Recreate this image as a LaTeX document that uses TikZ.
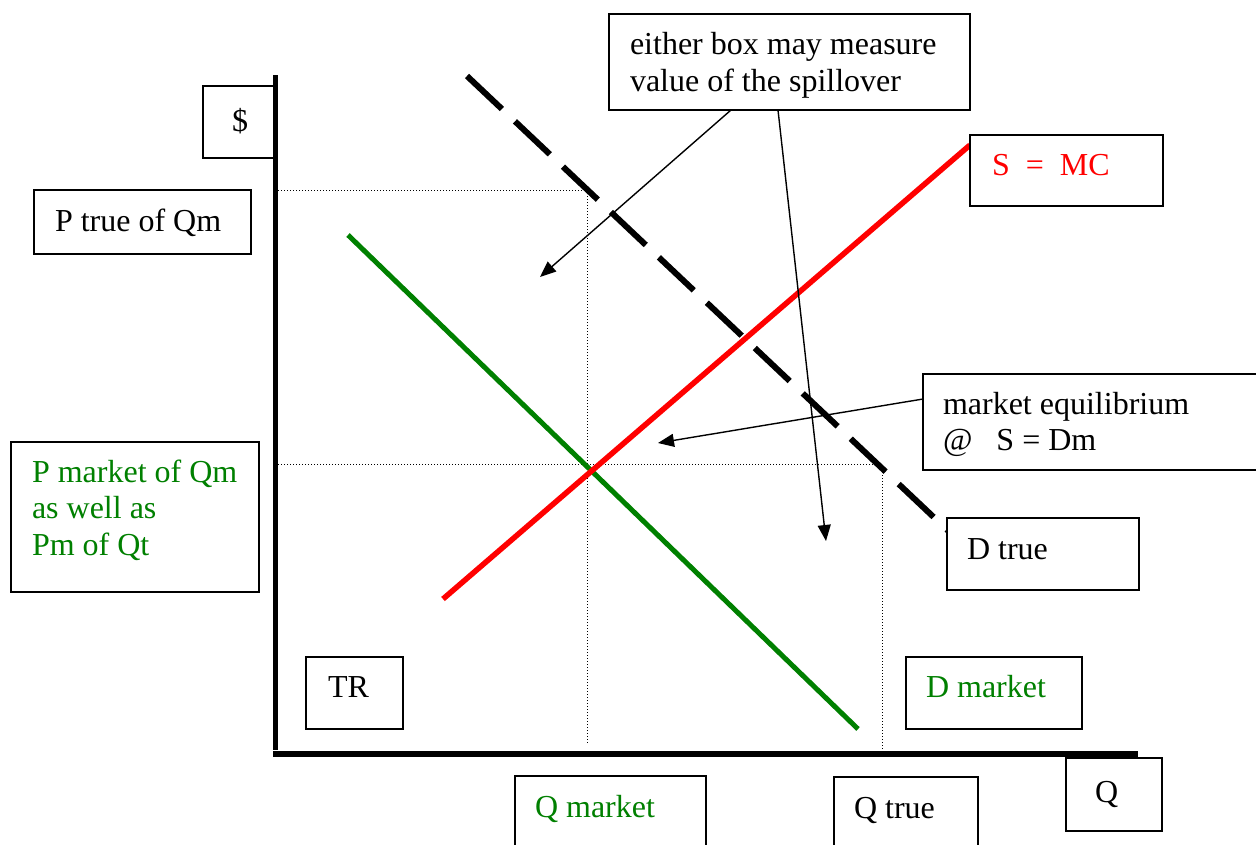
\documentclass[tikz,border=0pt]{standalone}
\usepackage{fontspec}
\setmainfont{Liberation Serif}
\usetikzlibrary{arrows.meta,calc}
\definecolor{mkgreen}{RGB}{0,128,0}
\definecolor{mkred}{RGB}{255,0,0}
\newcommand\natsp{\spaceskip=0pt\xspaceskip=0pt\relax}
\begin{document}
\begin{tikzpicture}[x=1pt,y=-1pt,
  every node/.style={font=\fontsize{32}{36.5}\selectfont},
  box/.style={draw, line width=1.8pt, fill=white, rectangle, anchor=north west,
    outer sep=0pt, inner ysep=0pt, align=left},
  axis/.style={line width=5.5pt},
  guide/.style={line width=1pt, dash pattern=on 1pt off 2pt},
  curvered/.style={line width=5.5pt, draw=mkred},
  curvegreen/.style={line width=5pt, draw=mkgreen},
  truedemand/.style={line width=6pt, dash pattern=on 48pt off 18pt},
  pointer/.style={line width=1.4pt, -{Triangle[length=16pt,width=13pt]}}
]
\useasboundingbox (0,0) rectangle (1256,844);

% coordinates
\coordinate (yaxTop) at (275.5,75);
\coordinate (yaxBot) at (275.5,750);
\coordinate (xaxL) at (273,754);
\coordinate (xaxR) at (1138,754);
\coordinate (g1a) at (278,190);
\coordinate (g1b) at (587,190);
\coordinate (g1c) at (587,743);
\coordinate (g2a) at (278,464);
\coordinate (g2b) at (882,464);
\coordinate (g2c) at (882,749);
\coordinate (rs) at (443,599);
\coordinate (re) at (970,145);
\coordinate (gs) at (348,235);
\coordinate (ge) at (858,729);
\coordinate (ds) at (467,76);
\coordinate (de) at (960,542);
\coordinate (t1) at (540,277);
\coordinate (t2) at (826,541);
\coordinate (t3) at (658,443);

% guides
\draw[guide] (g1a) -- (g1b) -- (g1c);
\draw[guide] (g2a) -- (g2b) -- (g2c);

% curves
\draw[curvegreen] (gs) -- (ge);
\draw[curvered] (rs) -- (re);
\draw[truedemand] (ds) -- (de);

% boxes
\node[box, inner xsep=21pt, text width=319pt, minimum height=96pt, text height=22pt, text depth=36.5pt]
  (tbox) at (609,14) {\natsp either box may measure\\value of the spillover};
\node[box, inner xsep=22pt, text width=149pt, minimum height=71pt, text height=9pt, text depth=0pt, text=mkred]
  (smc) at (970,135) {\natsp S~~=~~MC};
\node[box, inner xsep=20pt, text width=300pt, minimum height=96pt, text height=20.5pt, text depth=36.5pt]
  (meq) at (923,374) {\natsp market equilibrium\\@~~~S = Dm};
\node[box, inner xsep=20pt, text width=152pt, minimum height=72pt, text height=10pt, text depth=0pt]
  (dtrue) at (947,518) {\natsp D true};
\node[box, inner xsep=21pt, text width=175pt, minimum height=64pt, text height=18pt, text depth=0pt]
  (ptrue) at (34,190) {\natsp P true of Qm};
\node[box, inner xsep=29pt, text width=13pt, minimum height=72pt, text height=18pt, text depth=0pt]
  (dollar) at (203,86) {\$};
\node[box, inner xsep=21pt, text width=206pt, minimum height=150pt, text height=3pt, text depth=73pt, text=mkgreen]
  (pmkt) at (11,442) {\natsp P market of Qm\\as well as\\Pm of Qt};
\node[box, inner xsep=22pt, text width=53pt, minimum height=72pt, text height=8pt, text depth=0pt]
  (tr) at (306,657) {TR};
\node[box, inner xsep=20pt, text width=136pt, minimum height=72pt, text height=8pt, text depth=0pt, text=mkgreen]
  (dmkt) at (906,657) {\natsp D market};
\node[box, inner xsep=20pt, text width=151pt, minimum height=72pt, text height=10pt, text depth=0pt, text=mkgreen]
  (qmkt) at (515,776) {\natsp Q market};
\node[box, inner xsep=20pt, text width=104pt, minimum height=72pt, text height=10pt, text depth=0pt]
  (qtrue) at (834,777) {\natsp Q true};
\node[box, inner xsep=29pt, text width=38pt, minimum height=73pt, text height=15pt, text depth=0pt]
  (qlab) at (1066,758) {Q};

% pointers
\draw[pointer] ($(tbox.south west)+(122,0)$) -- (t1);
\draw[pointer] ($(tbox.south west)+(169,0)$) -- (t2);
\draw[pointer] ($(meq.north west)+(0,25)$) -- (t3);

% axes
\draw[axis] (yaxTop) -- (yaxBot);
\draw[axis, line width=6pt] (xaxL) -- (xaxR);
\end{tikzpicture}
\end{document}
